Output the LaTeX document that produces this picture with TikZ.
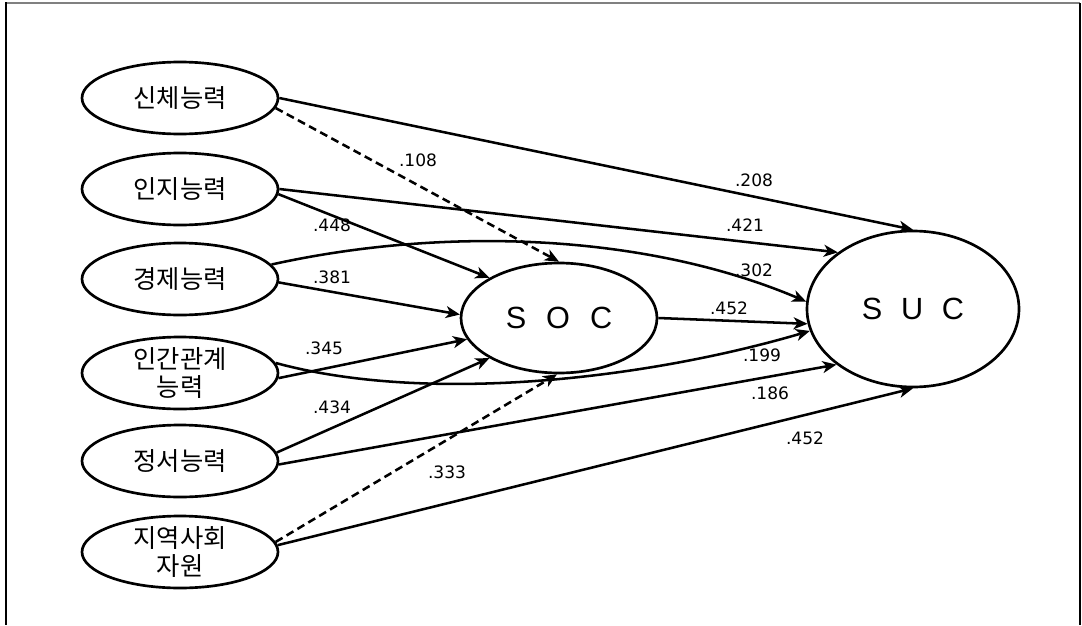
\documentclass[tikz,border=0pt]{standalone}
\usepackage{fontspec}
\setmainfont{DejaVu Sans}
\newfontfamily\kr{Noto Sans CJK KR}
\newfontfamily\latfont{Liberation Sans}
\usetikzlibrary{arrows.meta,shapes.geometric}
\begin{document}
\begin{tikzpicture}[x=0.75pt,y=-0.75pt,
  lat/.style={ellipse,draw,line width=2pt,minimum width=147pt,minimum height=54pt,inner sep=0pt,align=center,font=\kr\fontsize{19}{20.5}\selectfont},
  big/.style={ellipse,draw,line width=2pt,inner sep=0pt,font=\latfont\fontsize{23}{23}\selectfont},
  arr/.style={line width=1.9pt,-{Stealth[length=10.5pt,width=9pt,inset=3pt]}},
  dsh/.style={arr,dash pattern=on 6pt off 3.5pt},
  lbl/.style={inner sep=0pt,font=\fontsize{12.8}{13}\selectfont}
]
\useasboundingbox (0,0) rectangle (1082,625);
% frame
\draw[gray,line width=1.5pt] (6,2.5) -- (1080,2.5);
\draw[line width=1.1pt] (6,2) -- (6,625);
\draw[line width=1.1pt] (1080,3) -- (1080,625);

% nodes
\node[lat] (a1) at (180,98) {신체능력};
\node[lat] (a2) at (180,189) {인지능력};
\node[lat] (a3) at (180,279) {경제능력};
\node[lat] (a4) at (180,373) {인간관계\\능력};
\node[lat] (a5) at (180,461) {정서능력};
\node[lat] (a6) at (180,552) {지역사회\\자원};
\node[big,minimum width=147pt,minimum height=82.5pt] (soc) at (559,318) {S\hspace{15pt}O\hspace{15pt}C};
\node[big,minimum width=159pt,minimum height=117pt] (suc) at (913,309) {S\hspace{14pt}U\hspace{14pt}C};

% connectors
\draw[arr] (a1.east) -- (suc.north);
\draw[dsh] (a1.-6) -- (soc.north);
\draw[arr] (a2.east) -- (suc.143);
\draw[arr] (a2.-3) -- (soc.150);
\draw[arr] (a3.9) .. controls (450,225) and (650,235) .. (suc.176);
\draw[arr] (a3.-2) -- (soc.178);
\draw[arr] (soc.east) -- (suc.188);
\draw[arr] (a4.6) .. controls (430,405) and (650,378) .. (suc.192);
\draw[arr] (a4.-3) -- (soc.193);
\draw[arr] (a5.5) -- (soc.210);
\draw[arr] (a5.-2) -- (suc.216);
\draw[dsh] (a6.6) -- (soc.268);
\draw[arr] (a6.4) -- (suc.south);

% labels
\node[lbl] (l108) at (418,160) {.108};
\node[lbl] (l448) at (332,225) {.448};
\node[lbl] (l381) at (332,277) {.381};
\node[lbl] (l345) at (324,348) {.345};
\node[lbl] (l434) at (332,407) {.434};
\node[lbl] (l333) at (447,472) {.333};
\node[lbl] (l208) at (754,180) {.208};
\node[lbl] (l421) at (745,225) {.421};
\node[lbl] (l302) at (754,270) {.302};
\node[lbl] (l452a) at (729,308) {.452};
\node[lbl] (l199) at (762,355) {.199};
\node[lbl] (l186) at (770,393) {.186};
\node[lbl] (l452b) at (805,438) {.452};
\end{tikzpicture}
\end{document}
